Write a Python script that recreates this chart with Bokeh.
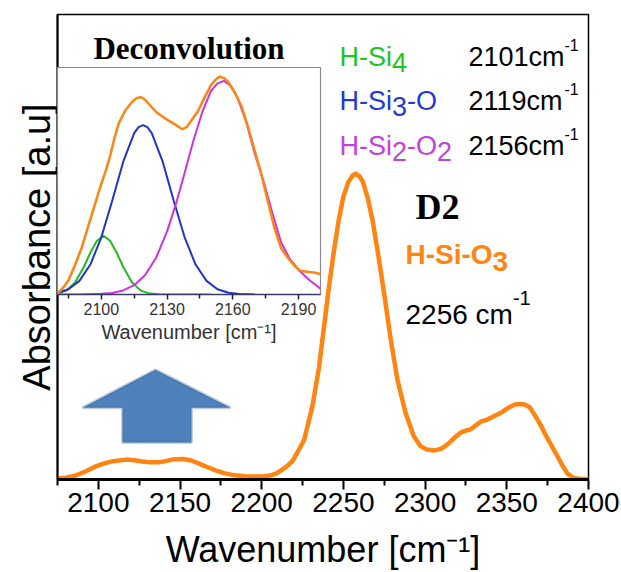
from bokeh.plotting import figure
from bokeh.models import Label, PolyAnnotation, FixedTicker
from bokeh.layouts import column
from bokeh.embed import file_html
from bokeh.resources import INLINE

# ---------------- data: main spectrum (D2) ----------------
main_wn = [2075, 2080, 2086, 2092, 2098, 2103, 2109, 2117, 2122, 2127, 2132, 2137, 2141, 2145,
           2152, 2157, 2162, 2167, 2172, 2177, 2182, 2190, 2196, 2201, 2205, 2209, 2213, 2216,
           2219, 2222, 2226, 2231, 2235, 2238, 2241, 2244, 2247, 2250, 2253, 2255.5, 2257.5,
           2260, 2262, 2265, 2268, 2271, 2275, 2279, 2283, 2288, 2293, 2297, 2301, 2306, 2310,
           2314, 2318, 2322, 2325, 2328, 2331, 2334, 2338, 2343, 2347, 2351, 2355, 2358, 2361,
           2364, 2368, 2371, 2374, 2378, 2381, 2384, 2387, 2391, 2395, 2400]
main_abs = [0.003, 0.006, 0.013, 0.026, 0.042, 0.052, 0.060, 0.065, 0.063, 0.059, 0.056, 0.056,
            0.060, 0.065, 0.067, 0.062, 0.051, 0.040, 0.029, 0.021, 0.015, 0.011, 0.010, 0.011,
            0.013, 0.020, 0.034, 0.046, 0.062, 0.090, 0.130, 0.239, 0.365, 0.494, 0.624, 0.740,
            0.845, 0.925, 0.972, 0.993, 1.000, 0.990, 0.972, 0.918, 0.842, 0.745, 0.605, 0.456,
            0.328, 0.218, 0.142, 0.110, 0.098, 0.095, 0.101, 0.116, 0.137, 0.154, 0.160, 0.164,
            0.177, 0.189, 0.196, 0.209, 0.220, 0.235, 0.245, 0.247, 0.245, 0.236, 0.203, 0.175,
            0.143, 0.105, 0.076, 0.046, 0.020, 0.005, 0.002, 0.002]
main_ticks = [2100, 2150, 2200, 2250, 2300, 2350, 2400]
main_minor = [2075, 2125, 2175, 2225, 2275, 2325, 2375]

# ---------------- data: deconvolution inset ----------------
ins_meas_wn = [2080, 2083, 2085, 2088, 2091, 2094, 2097, 2100, 2102, 2104, 2106, 2108, 2111, 2114,
               2116, 2118, 2120, 2122, 2125, 2129, 2133, 2137, 2139, 2141, 2144, 2147, 2150, 2152,
               2154, 2156, 2158, 2161, 2164, 2167, 2170, 2173, 2176, 2179, 2182, 2185, 2188, 2191,
               2194, 2197, 2200]
ins_meas = [0.004, 0.035, 0.063, 0.130, 0.205, 0.300, 0.395, 0.488, 0.545, 0.610, 0.690, 0.755,
            0.812, 0.848, 0.865, 0.870, 0.858, 0.836, 0.804, 0.776, 0.753, 0.728, 0.738, 0.765,
            0.806, 0.866, 0.922, 0.945, 0.960, 0.953, 0.935, 0.888, 0.828, 0.735, 0.632, 0.530,
            0.410, 0.293, 0.205, 0.163, 0.128, 0.104, 0.100, 0.097, 0.090]

si4_wn = [2080, 2084, 2088, 2092, 2095, 2098, 2101, 2104, 2107, 2110, 2114, 2118, 2122, 2126, 2135, 2150]
si4 = [0.004, 0.017, 0.053, 0.121, 0.184, 0.237, 0.258, 0.237, 0.184, 0.121, 0.053, 0.017, 0.004,
       0.001, 0.0, 0.0]

si3o_wn = [2080, 2085, 2090, 2095, 2100, 2105, 2110, 2115, 2117, 2119, 2121, 2123, 2128, 2133,
           2138, 2143, 2148, 2153, 2158, 2163, 2170]
si3o = [0.008, 0.023, 0.060, 0.132, 0.252, 0.414, 0.585, 0.711, 0.737, 0.746, 0.737, 0.711, 0.585,
        0.414, 0.252, 0.132, 0.060, 0.023, 0.008, 0.002, 0.0]

si2o2_wn = [2080, 2090, 2100, 2105, 2110, 2115, 2120, 2125, 2130, 2134, 2138, 2142, 2146, 2150,
            2153, 2156, 2159, 2162, 2166, 2170, 2174, 2178, 2182, 2186, 2190, 2195, 2200]
si2o2 = [0.0, 0.0, 0.003, 0.007, 0.018, 0.041, 0.086, 0.162, 0.278, 0.398, 0.535, 0.677, 0.802,
         0.896, 0.930, 0.941, 0.920, 0.870, 0.764, 0.620, 0.500, 0.360, 0.230, 0.157, 0.108,
         0.063, 0.026]
inset_ticks = [2100, 2130, 2160, 2190]
inset_minor = [2085, 2115, 2145, 2175]

species = ["H-Si", "H-Si", "H-Si"]
peak_labels = ["2101cm", "2119cm", "2156cm"]

ORANGE = "#ff8412"
GREEN = "#1fc41f"
BLUE = "#2437d8"
MAGENTA = "#c440dc"
SANS = "Liberation Sans"
SERIF = "Liberation Serif"

# ---------------- main figure ----------------
p = figure(width=621, height=572, x_range=(2075, 2400), y_range=(0, 1.52),
           output_backend="svg", toolbar_location=None,
           min_border_left=57, min_border_right=33, min_border_top=14, min_border_bottom=92)
p.grid.visible = False
p.outline_line_color = "black"
p.outline_line_width = 1.5
p.background_fill_color = "white"

p.yaxis.ticker = FixedTicker(ticks=[])
p.yaxis.axis_line_width = 2
p.yaxis.axis_line_color = "black"
p.yaxis.major_tick_line_color = None
p.yaxis.minor_tick_line_color = None
p.yaxis.axis_label = "Absorbance [a.u]"
p.yaxis.axis_label_text_font = SANS
p.yaxis.axis_label_text_font_size = "38px"
p.yaxis.axis_label_text_font_style = "normal"
p.yaxis.axis_label_text_color = "black"
p.yaxis.axis_label_standoff = 0

p.xaxis.ticker = FixedTicker(ticks=main_ticks, minor_ticks=main_minor)
p.xaxis.axis_line_width = 3
p.xaxis.axis_line_color = "black"
p.xaxis.major_tick_out = 10
p.xaxis.major_tick_in = 0
p.xaxis.minor_tick_out = 6
p.xaxis.minor_tick_in = 0
p.xaxis.major_tick_line_width = 2
p.xaxis.minor_tick_line_width = 2
p.xaxis.major_tick_line_color = "black"
p.xaxis.minor_tick_line_color = "black"
p.xaxis.major_label_text_font = SANS
p.xaxis.major_label_text_font_size = "28px"
p.xaxis.major_label_text_color = "black"
p.xaxis.major_label_standoff = 3
p.xaxis.axis_label = "Wavenumber [cm\u207b\u00b9]"
p.xaxis.axis_label_text_font = SANS
p.xaxis.axis_label_text_font_size = "36px"
p.xaxis.axis_label_text_font_style = "normal"
p.xaxis.axis_label_text_color = "black"
p.xaxis.axis_label_standoff = 14

p.line(main_wn, main_abs, line_color=ORANGE, line_width=4.5, line_join="round")


def mx(px):
    return 2075 + (px - 57) * (325 / 531)


def my(py):
    return (480 - py) * (1.52 / 466)


def lab(fig, fx, fy, px, py, text, size, color, font=SANS, style="normal", align="left"):
    fig.add_layout(Label(x=fx(px), y=fy(py), text=text, text_font_size=f"{size}px",
                         text_color=color, text_font=font, text_font_style=style,
                         text_align=align, text_baseline="alphabetic"))


# arrow (decoration)
ax = [155, 230, 191, 191, 122, 122, 82]
ay = [370, 408, 408, 443, 443, 408, 408]
p.add_layout(PolyAnnotation(xs=[mx(v) for v in ax], ys=[my(v) for v in ay],
                            fill_color="#4f81bd", fill_alpha=1.0,
                            line_color="#385d8a", line_width=3))

# legend of species
cols = [GREEN, BLUE, MAGENTA]
rows = [57, 101, 146]
for i in range(3):
    lab(p, mx, my, 339, rows[i], species[i], 27, cols[i])
    lab(p, mx, my, 468, rows[i], peak_labels[i], 27, "black")
    lab(p, mx, my, 564, rows[i] - 12, "-1", 16, "black")
lab(p, mx, my, 391.5, 62, "4", 27, GREEN)
lab(p, mx, my, 391.5, 106, "3", 27, BLUE)
lab(p, mx, my, 406.5, 101, "-O", 27, BLUE)
lab(p, mx, my, 391.5, 151, "2", 27, MAGENTA)
lab(p, mx, my, 406.5, 146, "-O", 27, MAGENTA)
lab(p, mx, my, 436.5, 151, "2", 27, MAGENTA)

lab(p, mx, my, 415, 207, "D2", 36, "black", font=SERIF, style="bold")
lab(p, mx, my, 405, 255, "H-Si-O", 28, ORANGE, style="bold")
lab(p, mx, my, 492, 262, "3", 28, ORANGE, style="bold")
lab(p, mx, my, 405, 315, "2256 cm", 28, "black")
lab(p, mx, my, 512.4, 298, "-1", 20, "black")

# ---------------- inset figure ----------------
# (the column aligns its frame edges with the main plot: 57 px left, 33 px right)
inset = figure(width=353, height=336, x_range=(2080, 2200), y_range=(0, 1),
               output_backend="svg", toolbar_location=None, y_axis_location=None,
               min_border_left=57, min_border_right=33, min_border_top=53, min_border_bottom=56,
               title="Deconvolution")
inset.title.text_font = SERIF
inset.title.text_font_style = "bold"
inset.title.text_font_size = "31px"
inset.title.text_color = "black"
inset.title.align = "center"
inset.title.offset = -6
inset.title.standoff = 4
inset.grid.visible = False
inset.border_fill_alpha = 0
inset.background_fill_color = "white"
inset.outline_line_color = "#8a8a8a"
inset.outline_line_width = 1.2

inset.xaxis.ticker = FixedTicker(ticks=inset_ticks, minor_ticks=inset_minor)
inset.xaxis.axis_line_color = "#3b3b6e"
inset.xaxis.axis_line_width = 1.5
inset.xaxis.major_tick_out = 5
inset.xaxis.major_tick_in = 0
inset.xaxis.minor_tick_out = 4
inset.xaxis.minor_tick_in = 0
inset.xaxis.major_tick_line_color = "#222222"
inset.xaxis.minor_tick_line_color = "#222222"
inset.xaxis.major_tick_line_width = 1.5
inset.xaxis.minor_tick_line_width = 1.5
inset.xaxis.major_label_text_font = SANS
inset.xaxis.major_label_text_font_size = "16px"
inset.xaxis.major_label_text_color = "#333333"
inset.xaxis.major_label_standoff = 3
inset.xaxis.axis_label = "Wavenumber [cm\u207b\u00b9]"
inset.xaxis.axis_label_text_font = SANS
inset.xaxis.axis_label_text_font_size = "20px"
inset.xaxis.axis_label_text_font_style = "normal"
inset.xaxis.axis_label_text_color = "#333333"
inset.xaxis.axis_label_standoff = 3

inset.line(si4_wn, si4, line_color="#22bb22", line_width=2)
inset.line(si3o_wn, si3o, line_color="#2233cc", line_width=2)
inset.line(si2o2_wn, si2o2, line_color="#cc33dd", line_width=2)
inset.line(ins_meas_wn, ins_meas, line_color=ORANGE, line_width=2.5, line_join="round")

inset.styles = {"position": "absolute", "left": "0px", "top": "14px", "z-index": "5"}

layout = column(p, inset)
open("out.html", "w").write(file_html(layout, INLINE))
